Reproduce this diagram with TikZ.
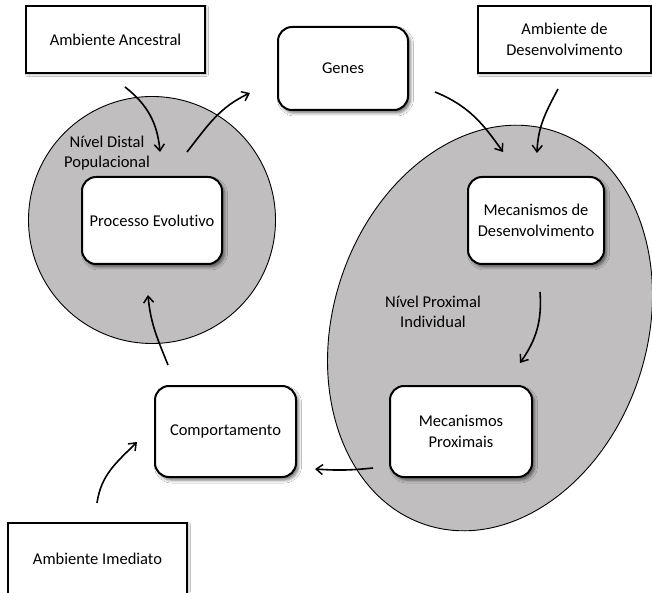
\documentclass[tikz,border=0pt]{standalone}
\usepackage{fontspec}
\setmainfont[Ligatures={NoCommon,NoRequired,NoContextual}]{Carlito}
\usetikzlibrary{shadows.blur,arrows.meta}
\definecolor{zonegray}{RGB}{192,190,190}
\tikzset{
  envbox/.style={draw=black, line width=1.5pt, fill=white, rectangle, inner sep=0pt,
    align=center, font=\fontsize{16.5}{20.5}\selectfont,
    blur shadow={shadow xshift=1.5pt, shadow yshift=-1.5pt, shadow blur radius=2pt, shadow opacity=35}},
  stagebox/.style={draw=black, line width=2pt, fill=white, rectangle, rounded corners=14pt, inner sep=0pt,
    align=center, font=\fontsize{16.5}{20.5}\selectfont,
    blur shadow={shadow xshift=2.5pt, shadow yshift=-3pt, shadow blur radius=3pt, shadow opacity=55}},
  zone/.style={draw=black, line width=0.9pt, fill=zonegray},
  zonelabel/.style={align=center, inner sep=0pt, font=\fontsize{16.5}{20.5}\selectfont},
  flow/.style={line width=1.6pt, -{Straight Barb[length=6.5pt,width=10pt,line width=1.5pt]}}
}
\begin{document}
\begin{tikzpicture}[x=1pt,y=1pt]
\clip (0,0) rectangle (652,592);
\fill[white] (0,0) rectangle (652,592);
% zones
\draw[zone] (152,372) circle (123.5);
\draw[zone, rotate around={72:(490,264)}] (490,264) ellipse (207 and 157);
\node[zonelabel] (distal) at (107,439) {Nível Distal\\Populacional};
\node[zonelabel] (proximal) at (433,280) {Nível Proximal\\Individual};
% boxes
\node[envbox, minimum width=179pt, minimum height=67pt] (anc) at (115.5,552.5) {Ambiente Ancestral};
\node[envbox, minimum width=173pt, minimum height=67pt] (ades) at (564.5,552.5) {Ambiente de\\Desenvolvimento};
\node[envbox, minimum width=179pt, minimum height=71pt] (imed) at (97.5,33.5) {Ambiente Imediato};
\node[stagebox, minimum width=130pt, minimum height=83pt] (genes) at (343,523.5) {Genes};
\node[stagebox, minimum width=140pt, minimum height=87pt] (proc) at (152,371.5) {Processo Evolutivo};
\node[stagebox, minimum width=136pt, minimum height=87pt] (mdes) at (536,371.5) {Mecanismos de\\Desenvolvimento};
\node[stagebox, minimum width=142pt, minimum height=91pt] (mprox) at (461,160.5) {Mecanismos\\Proximais};
\node[stagebox, minimum width=141pt, minimum height=91pt] (comp) at (225.5,160.5) {Comportamento};
% connector end points
\coordinate (c1s) at (125,505);
\coordinate (c1e) at (160,440);
\coordinate (c2s) at (187,440);
\coordinate (c2e) at (250,499);
\coordinate (c3s) at (435,500);
\coordinate (c3e) at (503,440);
\coordinate (c4s) at (558,503);
\coordinate (c4e) at (537,439);
\coordinate (c5s) at (540,300);
\coordinate (c5e) at (520,229);
\coordinate (c6s) at (373,124);
\coordinate (c6e) at (315,123);
\coordinate (c7s) at (168,227);
\coordinate (c7e) at (148,297);
\coordinate (c8s) at (97,89);
\coordinate (c8e) at (137,150);
% connectors
\draw[flow] (c1s) to[out=-38, in=95] (c1e);
\draw[flow] (c2s) to[out=52, in=205] (c2e);
\draw[flow] (c3s) to[out=-22, in=125] (c3e);
\draw[flow] (c4s) to[out=-118, in=88] (c4e);
\draw[flow] (c5s) to[out=-86, in=55] (c5e);
\draw[flow] (c6s) to[out=186, in=-4] (c6e);
\draw[flow] (c7s) to[out=112, in=-85] (c7e);
\draw[flow] (c8s) to[out=82, in=-135] (c8e);
\end{tikzpicture}
\end{document}
